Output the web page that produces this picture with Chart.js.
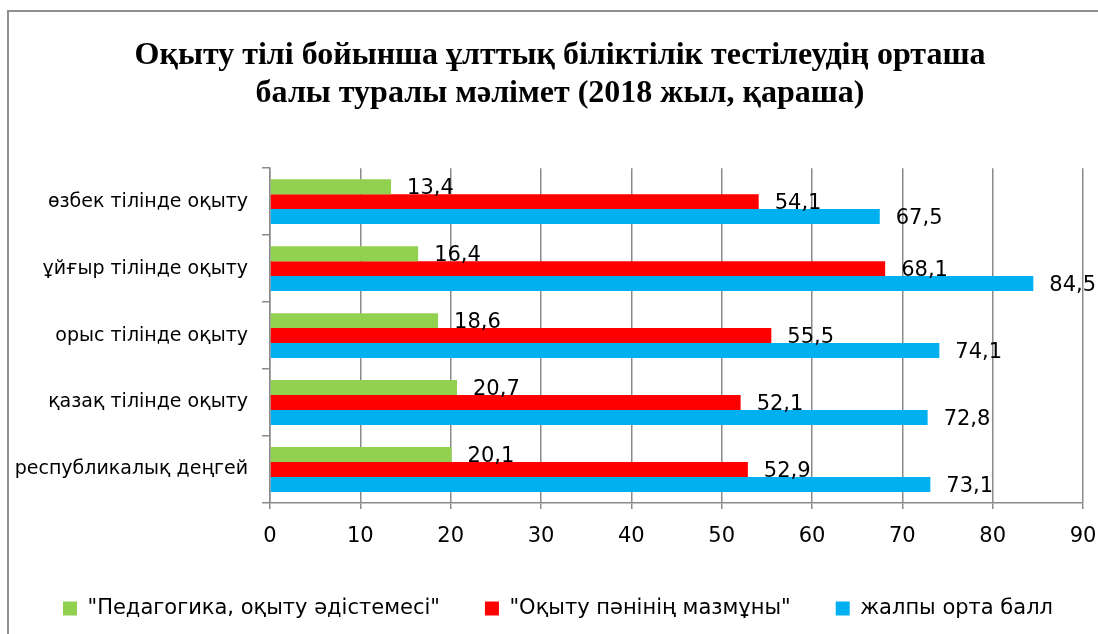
<!DOCTYPE html>
<html>
<head>
<meta charset="utf-8">
<script src="https://cdn.jsdelivr.net/npm/chart.js@4"></script>
<style>
  html, body { margin: 0; padding: 0; background: #fff; overflow: hidden; }
  #frame { position: absolute; left: 7px; top: 10px; width: 1200px; height: 700px; border: 2px solid #8f8f8f; }
  #wrap { position: absolute; left: 0; top: 0; width: 1098px; height: 634px; }
</style>
</head>
<body>
<div id="frame"></div>
<div id="wrap"><canvas id="chart"></canvas></div>
<script>
  const categories = ['өзбек тілінде оқыту', 'ұйғыр тілінде оқыту', 'орыс тілінде оқыту', 'қазақ тілінде оқыту', 'республикалық деңгей'];
  const pedagogy = [13.4, 16.4, 18.6, 20.7, 20.1];
  const subject = [54.1, 68.1, 55.5, 52.1, 52.9];
  const overall = [67.5, 84.5, 74.1, 72.8, 73.1];
  const seriesNames = ['"Педагогика, оқыту әдістемесі"', '"Оқыту пәнінің мазмұны"', 'жалпы орта балл'];
  const xTicks = [0, 10, 20, 30, 40, 50, 60, 70, 80, 90];
  const titleLines = ['Оқыту тілі бойынша ұлттық біліктілік тестілеудің орташа', 'балы туралы мәлімет (2018 жыл, қараша)'];

  const GRID = '#8a8a8a';
  const FONT = '"DejaVu Sans", sans-serif';

  // numbers next to the bar ends, decimal comma
  const valueLabels = {
    id: 'valueLabels',
    afterDatasetsDraw(chart) {
      const ctx = chart.ctx;
      ctx.save();
      ctx.font = '21px ' + FONT;
      ctx.fillStyle = '#000';
      ctx.textAlign = 'left';
      ctx.textBaseline = 'middle';
      chart.data.datasets.forEach((ds, i) => {
        chart.getDatasetMeta(i).data.forEach((bar, j) => {
          ctx.fillText(ds.data[j].toFixed(1).replace('.', ','), bar.x + 16, bar.y + 2);
        });
      });
      ctx.restore();
    }
  };

  // title centred as in the original, legend nudged right a little
  const boxShift = {
    id: 'boxShift',
    afterLayout(chart) {
      const t = chart.titleBlock;
      if (t) { const dx = 560 - (t.left + t.right) / 2; t.left += dx; t.right += dx; }
      const lg = chart.legend;
      if (lg) { lg.left += 10; lg.right += 10; }
    }
  };

  const mk = (label, data, color) => ({ label, data, backgroundColor: color, borderWidth: 0, categoryPercentage: 0.67, barPercentage: 1.0 });

  new Chart(document.getElementById('chart').getContext('2d'), {
    type: 'bar',
    data: {
      labels: categories,
      datasets: [
        mk(seriesNames[0], pedagogy, '#92D050'),
        mk(seriesNames[1], subject, '#FF0000'),
        mk(seriesNames[2], overall, '#00B0F0')
      ]
    },
    options: {
      indexAxis: 'y',
      responsive: true,
      maintainAspectRatio: false,
      animation: false,
      layout: { padding: { left: 8, right: 6, top: 0, bottom: 5 } },
      plugins: {
        title: {
          display: true,
          text: titleLines,
          color: '#000',
          font: { family: '"Liberation Serif", "Times New Roman", serif', size: 32, weight: 'bold', lineHeight: 1.19 },
          padding: { top: 37, bottom: 55 }
        },
        legend: {
          position: 'bottom',
          align: 'start',
          labels: { color: '#000', font: { family: FONT, size: 21 }, boxWidth: 14, boxHeight: 14, padding: 45 }
        },
        tooltip: { enabled: false }
      },
      scales: {
        x: {
          min: 0, max: 90,
          afterBuildTicks: s => { s.ticks = xTicks.map(v => ({ value: v })); },
          afterFit: s => { s.height = 50; s.paddingRight = 15; },
          ticks: { color: '#000', font: { family: FONT, size: 21 }, padding: 15 },
          grid: { color: GRID, lineWidth: 1.5, tickLength: 6 },
          border: { color: GRID, width: 1.5 }
        },
        y: {
          afterFit: s => { s.width = 262; },
          ticks: { color: '#000', font: { family: FONT, size: 19 }, padding: 14 },
          grid: { drawOnChartArea: false, offset: true, tickLength: 8, color: GRID, lineWidth: 1.5 },
          border: { color: GRID, width: 1.5 }
        }
      }
    },
    plugins: [valueLabels, boxShift]
  });
</script>
</body>
</html>
